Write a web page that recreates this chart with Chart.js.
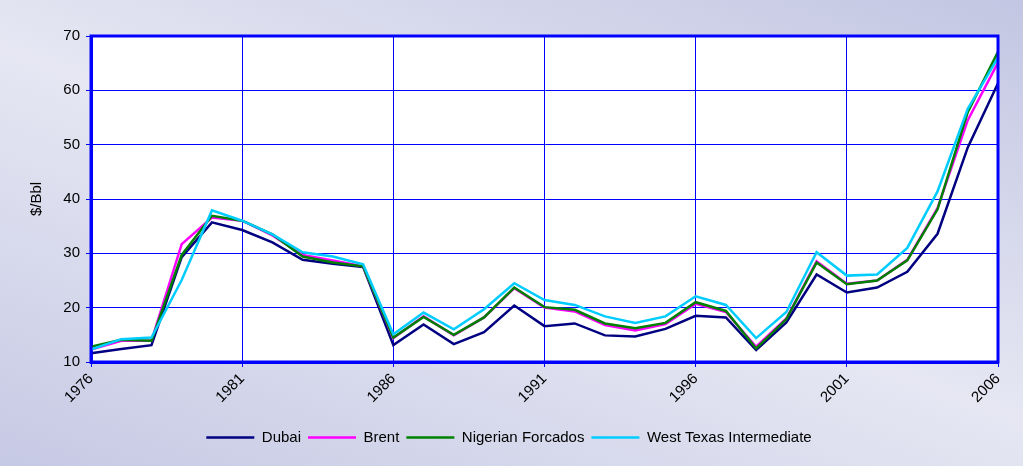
<!DOCTYPE html>
<html>
<head>
<meta charset="utf-8">
<script src="https://cdn.jsdelivr.net/npm/chart.js@4/dist/chart.umd.min.js"></script>
<style>
  html, body { margin: 0; padding: 0; }
  body {
    width: 1023px; height: 466px; overflow: hidden;
    background: linear-gradient(20deg, #c6c9e4 0%, #e6e7f3 50%, #c2c6e2 100%);
  }
  #oilChart { display: block; }
</style>
</head>
<body>
<canvas id="oilChart" width="1023" height="466"></canvas>
<script>
// years on the x axis
const years = [];
for (let y = 1976; y <= 2006; y++) years.push(String(y));

const dubai = [11.6, 12.4, 13.1, 29.3, 35.7, 34.3, 32.0, 28.8, 28.1, 27.5,
  13.1, 16.9, 13.3, 15.5, 20.4, 16.6, 17.1, 14.9, 14.7, 16.1,
  18.5, 18.2, 12.2, 17.3, 26.1, 22.8, 23.7, 26.6, 33.6, 49.5, 61.3];
const brent = [12.3, 13.9, 13.9, 31.7, 36.6, 36.0, 33.3, 29.7, 28.7, 27.6,
  14.4, 18.4, 14.9, 18.2, 23.6, 20.0, 19.3, 16.8, 15.8, 17.0,
  20.7, 19.2, 12.8, 18.0, 28.5, 24.4, 25.0, 28.8, 38.3, 54.5, 65.1];
const forcados = [12.8, 14.1, 13.9, 29.7, 36.9, 36.0, 33.5, 29.4, 28.3, 27.6,
  14.5, 18.3, 15.0, 18.2, 23.7, 20.1, 19.6, 17.1, 16.2, 17.2,
  21.0, 19.4, 12.5, 17.9, 28.3, 24.3, 25.0, 28.7, 38.1, 56.0, 67.1];
const wti = [12.3, 14.2, 14.5, 25.1, 37.9, 36.0, 33.5, 30.2, 29.4, 28.0,
  15.1, 19.1, 16.0, 19.7, 24.5, 21.4, 20.5, 18.4, 17.2, 18.4,
  22.1, 20.5, 14.4, 19.2, 30.2, 25.9, 26.1, 31.0, 41.4, 56.6, 66.0];

const BLUE = '#0000ff';
const FONT = { family: 'Liberation Sans, Arial', size: 15 };

//Start plot frame plugin
const plotFrame = {
  id: 'plotFrame',
  beforeDraw(chart) {
    const a = chart.chartArea, c = chart.ctx;
    c.save();
    c.fillStyle = '#ffffff';
    c.fillRect(a.left, a.top, a.right - a.left, a.bottom - a.top);
    c.restore();
  },
  afterDatasetsDraw(chart) {
    const a = chart.chartArea, c = chart.ctx;
    c.save();
    c.strokeStyle = BLUE;
    c.lineWidth = 3;
    c.strokeRect(a.left, a.top, a.right - a.left, a.bottom - a.top);
    c.restore();
  }
};
//End plot frame plugin

function series(label, data, color, order) {
  return {
    label: label, data: data, borderColor: color, backgroundColor: color,
    borderWidth: 2.5, pointRadius: 0, tension: 0, order: order
  };
}

const ctx = document.getElementById('oilChart');
new Chart(ctx, {
  type: 'line',
  data: {
    labels: years,
    datasets: [
      series('Dubai', dubai, '#000080', 3),
      series('Brent', brent, '#ff00ff', 2),
      series('Nigerian Forcados', forcados, '#008000', 1),
      series('West Texas Intermediate', wti, '#00ccff', 0)
    ]
  },
  options: {
    responsive: false,
    animation: false,
    devicePixelRatio: 1,
    layout: { padding: { left: 20, right: 25, top: 36, bottom: 11 } },
    plugins: {
      tooltip: { enabled: false },
      legend: {
        position: 'bottom',
        labels: {
          usePointStyle: true,
          pointStyle: 'line',
          pointStyleWidth: 48,
          boxHeight: 3,
          padding: 7,
          color: '#000',
          font: FONT,
          sort: (a, b) => a.datasetIndex - b.datasetIndex
        }
      }
    },
    scales: {
      x: {
        offset: false,
        grid: { color: BLUE, lineWidth: 1, tickLength: 5, drawOnChartArea: true },
        border: { color: BLUE, width: 3 },
        ticks: {
          autoSkip: false, maxRotation: 45, minRotation: 45,
          color: '#000', padding: 3,
          font: FONT,
          callback: function (val, i) {
            const y = years[i];
            return ((+y - 1976) % 5 === 0) ? y : null;
          }
        },
        afterFit: (s) => { s.height = 61; }
      },
      y: {
        min: 10, max: 70,
        grid: { color: BLUE, lineWidth: 1, tickLength: 5 },
        border: { color: BLUE, width: 3 },
        ticks: {
          stepSize: 10, color: '#000', padding: 6,
          font: FONT
        },
        title: {
          display: true, text: '$/Bbl', color: '#000', padding: 8,
          font: FONT
        },
        afterFit: (s) => { s.width = 71; }
      }
    }
  },
  plugins: [plotFrame]
});
</script>
</body>
</html>
